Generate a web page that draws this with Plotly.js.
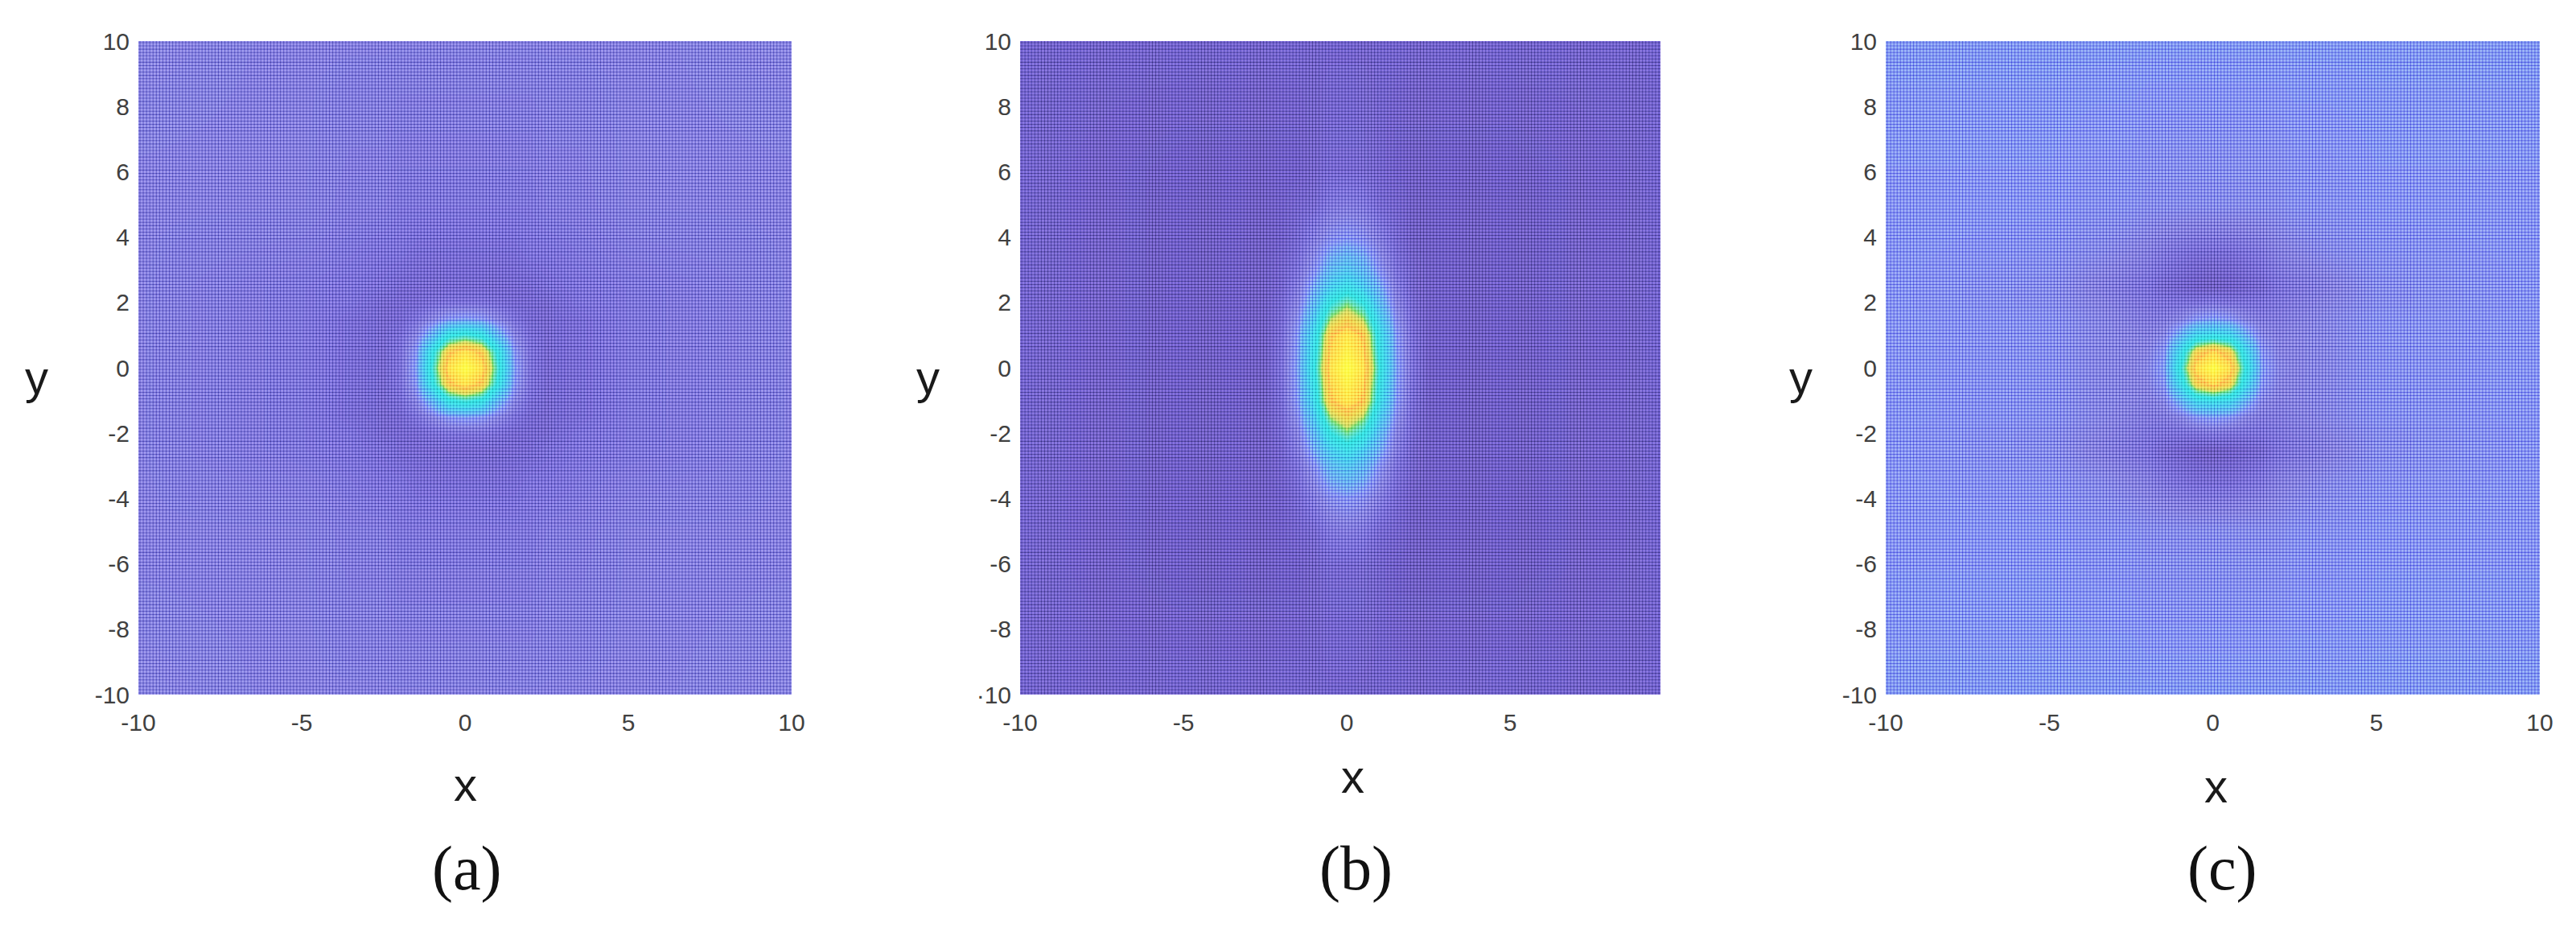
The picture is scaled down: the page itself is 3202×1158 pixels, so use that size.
<!DOCTYPE html>
<html>
<head>
<meta charset="utf-8">
<script src="https://cdn.plot.ly/plotly-3.0.1.min.js"></script>
<style>
  html, body { margin: 0; padding: 0; background: #fff; }
  #grafico { width: 3202px; height: 1158px; }
  /* the white mesh lightens the field but leaves the saturated yellow alone */
  .scatterlayer .trace path { mix-blend-mode: overlay; }
</style>
</head>
<body>
<div id="grafico"></div>
<script>
// Node positions of the values
const xNodesA = [-10, -5, -3.5, -2.5, -2, -1.5, -1, -0.5, 0, 0.5, 1, 1.5, 2, 2.5, 3.5, 5, 10];
const yNodesA = [-10, -5, -3.5, -2.5, -2, -1.5, -1, -0.5, 0, 0.5, 1, 1.5, 2, 2.5, 3.5, 5, 10];
const xNodesB = [-10, -5, -3.5, -2.5, -2, -1.5, -1, -0.5, 0, 0.5, 1, 1.5, 2, 2.5, 3.5, 5, 10];
const yNodesB = [-10, -6, -5, -4, -3, -2.5, -2, -1, 0, 1, 2, 2.5, 3, 4, 5, 6, 10];
const xNodesC = [-10, -5, -3.5, -2.5, -2, -1.5, -1, -0.5, 0, 0.5, 1, 1.5, 2, 2.5, 3.5, 5, 10];
const yNodesC = [-10, -5, -3.5, -2.5, -2, -1.5, -1, -0.5, 0, 0.5, 1, 1.5, 2, 2.5, 3.5, 5, 10];

// Intensity (0-100), one row per y node, from y=-10 up to y=10
const zA = [
  [16,15,15,15,15,15,15,15,15,15,15,15,15,15,15,15,16],
  [15,15,14,14,13,13,13,13,13,13,13,13,13,14,14,15,15],
  [15,14,13,12,12,11,11,11,11,11,11,11,12,12,13,14,15],
  [15,13,12,11,10,10,10,10,10,10,10,10,10,11,12,13,15],
  [15,13,12,10,10,10,11,12,12,12,11,10,10,10,12,13,15],
  [15,13,11,10,10,12,16,21,23,21,16,12,10,10,11,13,15],
  [15,13,11,10,11,16,30,52,58,52,30,16,11,10,11,13,15],
  [15,13,11,10,12,21,52,84,93,84,52,21,12,10,11,13,15],
  [15,13,11,10,12,23,58,93,100,93,58,23,12,10,11,13,15],
  [15,13,11,10,12,21,52,84,93,84,52,21,12,10,11,13,15],
  [15,13,11,10,11,16,30,52,58,52,30,16,11,10,11,13,15],
  [15,13,11,10,10,12,16,21,23,21,16,12,10,10,11,13,15],
  [15,13,12,10,10,10,11,12,12,12,11,10,10,10,12,13,15],
  [15,13,12,11,10,10,10,10,10,10,10,10,10,11,12,13,15],
  [15,14,13,12,12,11,11,11,11,11,11,11,12,12,13,14,15],
  [15,15,14,14,13,13,13,13,13,13,13,13,13,14,14,15,15],
  [16,15,15,15,15,15,15,15,15,15,15,15,15,15,15,15,16]
];
const zB = [
  [9,9,9,9,9, 9, 9, 9,  9, 9, 9, 9,9,9,9,9,9],
  [9,8,8,8,8, 8, 9,10, 10,10, 9, 8,8,8,8,8,9],
  [9,8,8,8,8, 9,10,13, 14,13,10, 9,8,8,8,8,9],
  [9,8,8,8,8,10,14,19, 21,19,14,10,8,8,8,8,9],
  [9,8,8,8,9,12,20,31, 36,31,20,12,9,8,8,8,9],
  [9,8,8,8,9,14,26,40, 48,40,26,14,9,8,8,8,9],
  [9,8,8,8,10,16,32,55, 66,55,32,16,10,8,8,8,9],
  [9,8,8,8,11,22,48,85, 94,85,48,22,11,8,8,8,9],
  [9,8,8,8,12,24,55,93,100,93,55,24,12,8,8,8,9],
  [9,8,8,8,11,22,48,85, 94,85,48,22,11,8,8,8,9],
  [9,8,8,8,10,16,32,55, 66,55,32,16,10,8,8,8,9],
  [9,8,8,8,9,14,26,40, 48,40,26,14,9,8,8,8,9],
  [9,8,8,8,9,12,20,31, 36,31,20,12,9,8,8,8,9],
  [9,8,8,8,8,10,14,19, 21,19,14,10,8,8,8,8,9],
  [9,8,8,8,8, 9,10,13, 14,13,10, 9,8,8,8,8,9],
  [9,8,8,8,8, 8, 9,10, 10,10, 9, 8,8,8,8,8,9],
  [9,9,9,9,9, 9, 9, 9,  9, 9, 9, 9,9,9,9,9,9]
];
const zC = [
  [22,22,22,22,22,22,22,22,22,22,22,22,22,22,22,22,22],
  [21,21,20,20,19,19,19,19,19,19,19,19,19,20,20,21,21],
  [21,20,18,16,15,13,12,11,11,11,12,13,15,16,18,20,21],
  [21,19,15,13,12,10, 9, 8, 8, 8, 9,10,12,13,15,19,21],
  [21,19,16,14,13,12,12,12,13,12,12,12,13,14,16,19,21],
  [21,20,17,15,14,14,16,21,23,21,16,14,14,15,17,20,21],
  [21,20,17,16,15,17,28,44,48,44,28,17,15,16,17,20,21],
  [21,20,17,16,16,21,46,80,90,80,46,21,16,16,17,20,21],
  [21,20,17,16,17,23,55,92,100,92,55,23,17,16,17,20,21],
  [21,20,17,16,16,21,46,80,90,80,46,21,16,16,17,20,21],
  [21,20,17,16,15,17,28,44,48,44,28,17,15,16,17,20,21],
  [21,20,17,15,14,14,16,21,23,21,16,14,14,15,17,20,21],
  [21,19,16,14,13,12,12,12,13,12,12,12,13,14,16,19,21],
  [21,19,15,13,12,10, 9, 8, 8, 8, 9,10,12,13,15,19,21],
  [21,20,18,16,15,13,12,11,11,11,12,13,15,16,18,20,21],
  [21,21,20,20,19,19,19,19,19,19,19,19,19,20,20,21,21],
  [22,22,22,22,22,22,22,22,22,22,22,22,22,22,22,22,22]
];

const xTicksFull = [-10, -5, 0, 5, 10];
const xTicksB = [-10, -5, 0, 5];
const yTicks = [-10, -8, -6, -4, -2, 0, 2, 4, 6, 8, 10];
const yLabelsAC = ['-10', '-8', '-6', '-4', '-2', '0', '2', '4', '6', '8', '10'];
const yLabelsB = ['·10', '-8', '-6', '-4', '-2', '0', '2', '4', '6', '8', '10'];
const captions = ['(a)', '(b)', '(c)'];

const colores = [
  [0.00, 'rgb(40,32,85)'],
  [0.08, 'rgb(53,45,105)'],
  [0.16, 'rgb(64,62,150)'],
  [0.21, 'rgb(64,70,210)'],
  [0.28, 'rgb(50,85,205)'],
  [0.40, 'rgb(35,110,195)'],
  [0.55, 'rgb(25,150,150)'],
  [0.68, 'rgb(62,145,55)'],
  [0.78, 'rgb(200,125,40)'],
  [0.86, 'rgb(245,105,40)'],
  [0.93, 'rgb(250,170,38)'],
  [1.00, 'rgb(250,250,35)']
];

// Mesh of the surface, one line every 0.1
const paso = 0.1;
function malla(sufijo) {
  const a = [], b = [];
  const n = Math.round(20 / paso);
  for (let i = 0; i <= n; i++) {
    const v = -10 + i * paso;
    a.push(v, v, null);
    b.push(-10, 10, null);
  }
  const linea = { color: 'rgba(255,255,255,0.6)', width: 3 };
  return [
    { x: a, y: b, xaxis: 'x' + sufijo, yaxis: 'y' + sufijo, type: 'scatter', mode: 'lines', line: linea, hoverinfo: 'skip' },
    { x: b, y: a, xaxis: 'x' + sufijo, yaxis: 'y' + sufijo, type: 'scatter', mode: 'lines', line: linea, hoverinfo: 'skip' }
  ];
}

function mapa(x, y, z, sufijo) {
  return {
    x: x, y: y, z: z, type: 'heatmap', zsmooth: 'best',
    colorscale: colores, zmin: 0, zmax: 100, showscale: false,
    xaxis: 'x' + sufijo, yaxis: 'y' + sufijo, hoverinfo: 'skip'
  };
}

const data = [
  mapa(xNodesA, yNodesA, zA, ''),
  mapa(xNodesB, yNodesB, zB, '2'),
  mapa(xNodesC, yNodesC, zC, '3')
].concat(malla(''), malla('2'), malla('3'));

const W = 3202, H = 1158;
const tickFont = { family: 'Liberation Sans', size: 30, color: '#404040' };

function ejeX(left, right, max, ticks, ancla) {
  return {
    domain: [left / W, right / W], range: [-10, max], anchor: ancla,
    tickmode: 'array', tickvals: ticks, ticktext: ticks.map(String),
    tickfont: tickFont, ticks: '', showgrid: false, zeroline: false, showline: false,
    ticklabelstandoff: 14
  };
}
function ejeY(labels, ancla) {
  return {
    domain: [1 - 863 / H, 1 - 51 / H], range: [-10, 10], anchor: ancla,
    tickmode: 'array', tickvals: yTicks, ticktext: labels,
    tickfont: tickFont, ticks: '', showgrid: false, zeroline: false, showline: false,
    ticklabelstandoff: 10
  };
}
function rotulo(text, px, py, font) {
  return { text: text, x: px / W, y: 1 - py / H, xref: 'paper', yref: 'paper', xanchor: 'center', yanchor: 'middle', showarrow: false, font: font };
}

const ejeFont = { family: 'Liberation Sans', size: 58, color: '#1a1a1a' };
const capFont = { family: 'Liberation Serif', size: 78, color: '#111111' };

const layout = {
  width: W, height: H, showlegend: false,
  margin: { l: 0, r: 0, t: 0, b: 0 },
  paper_bgcolor: '#ffffff', plot_bgcolor: '#ffffff',
  xaxis: ejeX(172, 984, 10, xTicksFull, 'y'),
  yaxis: ejeY(yLabelsAC, 'x'),
  xaxis2: ejeX(1268, 2064, 9.6, xTicksB, 'y2'),
  yaxis2: ejeY(yLabelsB, 'x2'),
  xaxis3: ejeX(2344, 3157, 10, xTicksFull, 'y3'),
  yaxis3: ejeY(yLabelsAC, 'x3'),
  annotations: [
    rotulo('x', 578, 974, ejeFont), rotulo('x', 1682, 964, ejeFont), rotulo('x', 2754, 976, ejeFont),
    rotulo('y', 45, 468, ejeFont), rotulo('y', 1153, 468, ejeFont), rotulo('y', 2238, 468, ejeFont),
    rotulo(captions[0], 580, 1078, capFont), rotulo(captions[1], 1686, 1078, capFont), rotulo(captions[2], 2762, 1078, capFont)
  ]
};

Plotly.newPlot('grafico', data, layout, { displayModeBar: false, staticPlot: true });
</script>
</body>
</html>
